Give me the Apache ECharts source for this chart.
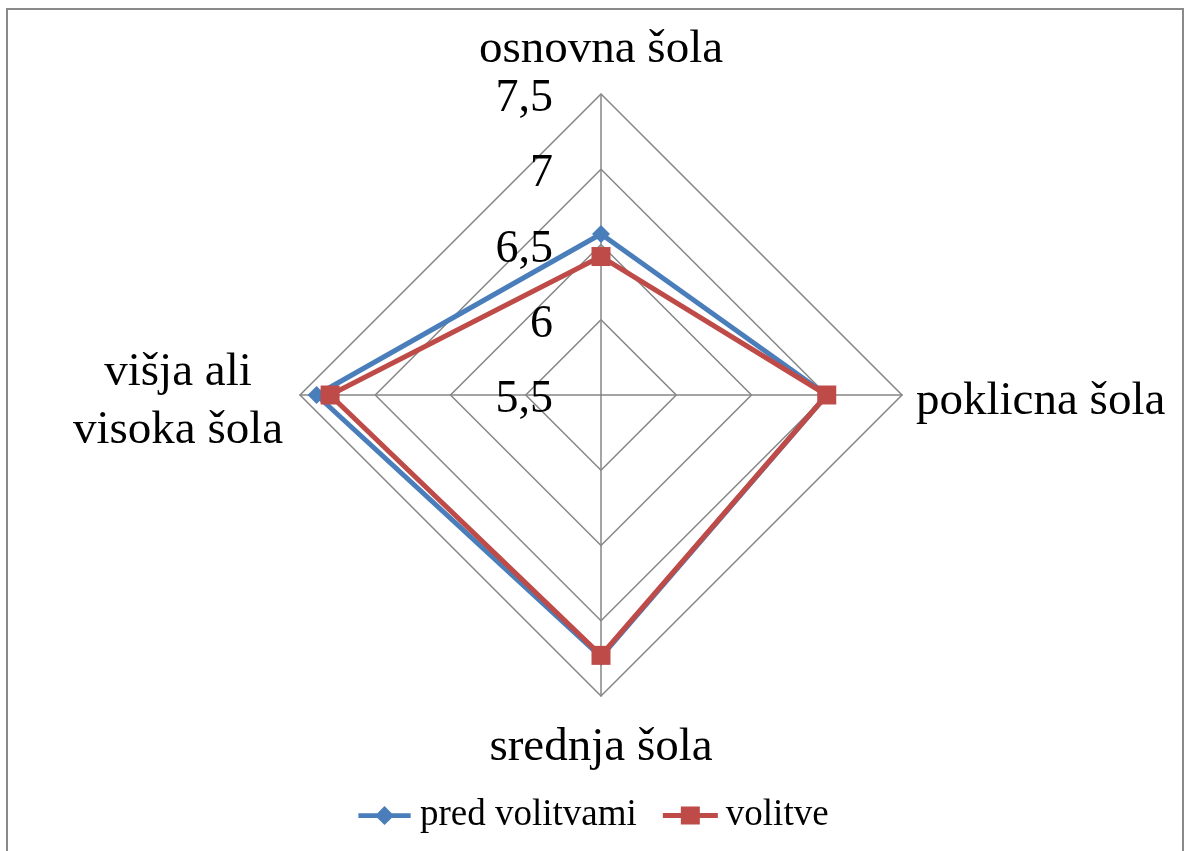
<!DOCTYPE html>
<html>
<head>
<meta charset="utf-8">
<script src="https://cdn.jsdelivr.net/npm/echarts@6/dist/echarts.min.js"></script>
<style>
html,body{margin:0;padding:0;background:#fff;}
#c{width:1187px;height:851px;}
</style>
</head>
<body>
<div id="c"></div>
<script>
// Categories in the source order
var categories = ['osnovna šola', 'poklicna šola', 'srednja šola', 'višja ali visoka šola'];
var seriesNames = ['pred volitvami', 'volitve'];
var predVolitvami = [6.57, 7.0, 7.24, 7.39];
var volitve = [6.42, 7.0, 7.23, 7.30];
var axisMin = 5.5, axisMax = 7.5, axisSplits = 4;

// ECharts places radar indicators counter-clockwise; reorder to top, left, bottom, right
var order = [0, 3, 2, 1];
function reorder(arr) { return order.map(function (i) { return arr[i]; }); }

var FONT = 'Liberation Serif';
var chart = echarts.init(document.getElementById('c'));

var indicators = reorder(categories).map(function (name, k) {
  var ind = { name: name, min: axisMin, max: axisMax };
  if (k === 0) ind.axisLabel = { show: true };
  return ind;
});

var diamondIcon = 'path://M0,6.5 H20 L27.5,-1 L35,6.5 H55 V11.5 H35 L27.5,19 L20,11.5 H0 Z';
var squareIcon = 'path://M0,6.5 H18 V0 H37 V6.5 H55 V11.5 H37 V18 H18 V11.5 H0 Z';

chart.setOption({
  animation: false,
  backgroundColor: '#fff',
  graphic: [{
    type: 'rect',
    shape: { x: 7, y: 9, width: 1176, height: 900 },
    style: { fill: 'none', stroke: '#8a8a8a', lineWidth: 2 },
    silent: true
  }],
  legend: {
    bottom: 12,
    left: 'center',
    itemWidth: 55,
    itemHeight: 19,
    itemGap: 26,
    textStyle: { fontFamily: FONT, fontSize: 37, color: '#000', padding: [0, 0, 0, 3] },
    data: [
      { name: seriesNames[0], icon: diamondIcon, itemStyle: { color: '#4A7EBB' } },
      { name: seriesNames[1], icon: squareIcon, itemStyle: { color: '#BE4B48' } }
    ]
  },
  radar: {
    center: [601, 395],
    radius: 301,
    startAngle: 90,
    shape: 'polygon',
    splitNumber: axisSplits,
    nameGap: 14,
    indicator: indicators,
    axisName: {
      color: '#000',
      fontFamily: FONT,
      fontSize: 47,
      padding: [14, 0, 0, 0],
      formatter: function (v) {
        if (v === 'višja ali visoka šola') {
          return '{c|višja ali}\n{c|visoka šola}';
        }
        if (v === 'osnovna šola') {
          return '{t|' + v + '}';
        }
        return v;
      },
      rich: {
        c: { width: 216, align: 'center', fontFamily: FONT, fontSize: 47, color: '#000', lineHeight: 58 },
        t: { fontFamily: FONT, fontSize: 47, color: '#000', lineHeight: 60 }
      }
    },
    axisLine: { lineStyle: { color: '#868686', width: 1.5 } },
    splitLine: { lineStyle: { color: '#868686', width: 1.5 } },
    splitArea: { show: false },
    axisTick: { show: false },
    axisLabel: {
      show: false,
      color: '#000',
      fontFamily: FONT,
      fontSize: 46,
      margin: 48,
      verticalAlign: 'top',
      lineHeight: 10,
      formatter: function (v) { return String(v).replace('.', ','); }
    }
  },
  series: [{
    type: 'radar',
    data: [
      {
        name: seriesNames[0],
        value: reorder(predVolitvami),
        symbol: 'diamond',
        symbolSize: 18,
        lineStyle: { color: '#4A7EBB', width: 5 },
        itemStyle: { color: '#4A7EBB' }
      },
      {
        name: seriesNames[1],
        value: reorder(volitve),
        symbol: 'rect',
        symbolSize: 19,
        lineStyle: { color: '#BE4B48', width: 5 },
        itemStyle: { color: '#BE4B48' }
      }
    ]
  }]
});
</script>
</body>
</html>
